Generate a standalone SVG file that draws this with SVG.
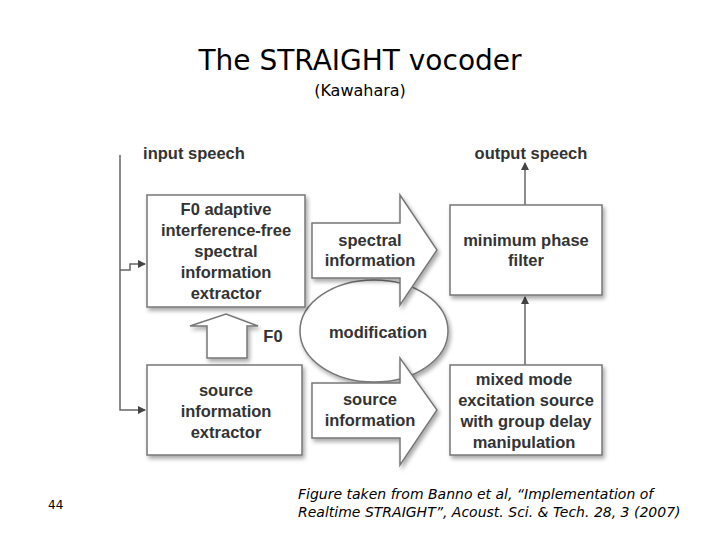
<svg xmlns="http://www.w3.org/2000/svg" width="720" height="540" viewBox="0 0 720 540">
<defs>
<filter id="sh" x="-10%" y="-10%" width="130%" height="130%"><feDropShadow dx="2" dy="3" stdDeviation="2" flood-color="#000" flood-opacity="0.35"/></filter>
<marker id="ah" markerWidth="8" markerHeight="8" refX="7" refY="4" orient="auto" markerUnits="userSpaceOnUse"><path d="M0,0 L8,4 L0,8 z" fill="#444"/></marker>
</defs>
<style>
.box{fill:#fff;stroke:#777;stroke-width:1.5;filter:url(#sh)}
.t{font-family:"Liberation Sans",Arial,sans-serif;font-weight:bold;font-size:16.5px;fill:#333;text-anchor:middle}
.l{fill:none;stroke:#666;stroke-width:1.5}
</style>
<rect width="720" height="540" fill="#fff"/>
<text x="360" y="70" font-family="DejaVu Sans,sans-serif" font-size="28" text-anchor="middle" fill="#000">The STRAIGHT vocoder</text>
<text x="360" y="96" font-family="DejaVu Sans,sans-serif" font-size="16" text-anchor="middle" fill="#000">(Kawahara)</text>
<g id="connectors">
<path class="l" d="M120,155 V410 H145" marker-end="url(#ah)"/>
<path class="l" d="M120,270 H130 V264 H145" marker-end="url(#ah)"/>
<path class="l" d="M525,205 V163" marker-end="url(#ah)"/>
<path class="l" d="M525,365 V297" marker-end="url(#ah)"/>
</g>
<g id="modification"><ellipse class="box" cx="374" cy="331" rx="74" ry="51"/><text class="t" x="378" y="338">modification</text></g>
<g id="spectral-arrow"><path class="box" d="M312,223 H400 V195 L437,250 L400,305 V278 H312 z"/><text class="t" x="370" y="246">spectral</text><text class="t" x="370" y="266">information</text></g>
<g id="source-arrow"><path class="box" d="M312,383 H400 V358 L437,410 L400,465 V438 H312 z"/><text class="t" x="370" y="405">source</text><text class="t" x="370" y="426">information</text></g>
<g id="f0-arrow"><path class="box" d="M207,358 V326 H190 L226,314 L258,326 H247 V358 z"/><text class="t" x="273" y="342">F0</text></g>
<g id="f0-extractor"><rect class="box" x="147" y="195" width="158" height="112"/>
<text class="t" x="226" y="215">F0 adaptive</text><text class="t" x="226" y="236">interference-free</text><text class="t" x="226" y="257">spectral</text><text class="t" x="226" y="278">information</text><text class="t" x="226" y="299">extractor</text></g>
<g id="source-extractor"><rect class="box" x="147" y="365" width="155" height="90"/>
<text class="t" x="226" y="396">source</text><text class="t" x="226" y="417">information</text><text class="t" x="226" y="438">extractor</text></g>
<g id="filter"><rect class="box" x="450" y="205" width="152" height="90"/>
<text class="t" x="526" y="246">minimum phase</text><text class="t" x="526" y="266">filter</text></g>
<g id="excitation"><rect class="box" x="450" y="365" width="152" height="90"/>
<text class="t" x="524" y="385">mixed mode</text><text class="t" x="526" y="406">excitation source</text><text class="t" x="526" y="427">with group delay</text><text class="t" x="524" y="448">manipulation</text></g>
<text class="t" x="194" y="159">input speech</text>
<text class="t" x="531" y="159">output speech</text>
<text x="48" y="509" font-family="DejaVu Sans,sans-serif" font-size="12" fill="#000">44</text>
<text font-family="DejaVu Sans,sans-serif" font-size="14" font-style="italic" fill="#000"><tspan x="298" y="499">Figure taken from Banno et al, “Implementation of</tspan><tspan x="298" y="517">Realtime STRAIGHT”, Acoust. Sci. &amp; Tech. 28, 3 (2007)</tspan></text>
</svg>
